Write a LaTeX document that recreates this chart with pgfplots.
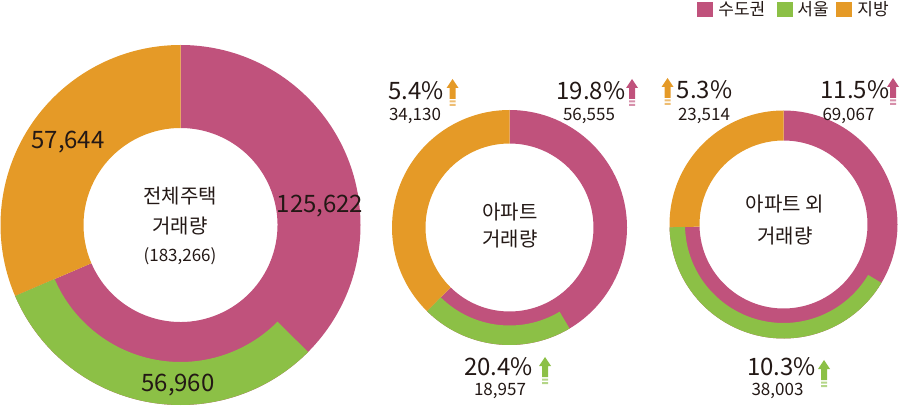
\documentclass[border=0pt]{standalone}
\usepackage{fontspec}
\setmainfont{Noto Sans CJK KR}
\usepackage{pgfplots}
\pgfplotsset{compat=1.18}

\definecolor{capital}{HTML}{C0527C}
\definecolor{seoul}{HTML}{8CC046}
\definecolor{local}{HTML}{E59A27}
\definecolor{ink}{HTML}{231815}

% one annular sector, radii in pixels (1 px = 0.5pt)
\newcommand\sector[7]{% colour, cx, cy, start, end, r inner, r outer
  \edef\temp{\noexpand\fill[#1, shift={(axis cs:#2,#3)}]
    (#4:\fpeval{#7*0.5}pt) arc[start angle=#4, end angle=#5, radius=\fpeval{#7*0.5}pt]
    -- (#5:\fpeval{#6*0.5}pt) arc[start angle=#5, end angle=#4, radius=\fpeval{#6*0.5}pt] -- cycle;}%
  \temp}

% donut: cx, cy (pixel, from top), R out, r in, r seoul band, capital, seoul, local
\newcommand\donut[8]{%
  \edef\aS{\fpeval{90-360*#6/(#6+#8)}}%
  \edef\aG{\fpeval{\aS+360*#7/(#6+#8)}}%
  \edef\cy{\fpeval{418-#2}}%
  \sector{capital}{#1}{\cy}{90}{\aS}{#4}{#3}%
  \sector{local}{#1}{\cy}{\aS}{-270}{#4}{#3}%
  \sector{seoul}{#1}{\cy}{\aG}{\aS}{#5}{#3}}

\newcommand\uparr[3]{% colour, x, top y
  \fill[#1, shift={(axis cs:#2,418-#3)}] (0,0) -- (3pt,-4.5pt) -- (1.5pt,-4.5pt)
    -- (1.5pt,-10pt) -- (-1.5pt,-10pt) -- (-1.5pt,-4.5pt) -- (-3pt,-4.5pt) -- cycle;
  \fill[#1!65, shift={(axis cs:#2,418-#3)}] (-1.5pt,-10.75pt) rectangle (1.5pt,-11.75pt)
    (-1.5pt,-12.5pt) rectangle (1.5pt,-13.5pt);}

\newcommand\bignum[3]{\node[anchor=base, inner sep=0, text=ink, font=\fontsize{12}{14}\selectfont] at (axis cs:#1,418-#2) {#3};}
\newcommand\smallnum[3]{\node[anchor=base, inner sep=0, text=ink, font=\fontsize{8.5}{10}\selectfont] at (axis cs:#1,418-#2) {#3};}
\newcommand\midtext[3]{\node[anchor=center, inner sep=0, text=ink, font=\fontsize{10}{12}\selectfont] at (axis cs:#1,418-#2) {#3};}

\begin{document}
\begin{tikzpicture}
\begin{axis}[x=0.5pt, y=0.5pt, xmin=0, xmax=900, ymin=0, ymax=418,
  hide axis, clip=false]
\coordinate (SW) at (axis cs:0,0);
\coordinate (NE) at (axis cs:900,418);

% 전체주택: 수도권 125,622 / 서울 56,960 / 지방 57,644
\donut{180.5}{225}{180}{97}{137}{125622}{56960}{57644}
% 아파트: 수도권 56,555 / 서울 18,957 / 지방 34,130
\donut{509.5}{227.5}{117.5}{84}{98}{56555}{18957}{34130}
% 아파트 외: 수도권 69,067 / 서울 38,003 / 지방 23,514
\donut{783.5}{224.5}{114}{84}{98.5}{69067}{38003}{23514}

% first donut labels
\bignum{68}{149}{57,644}
\bignum{320}{213}{125,622}
\bignum{178}{392}{56,960}
\midtext{180}{196}{전체주택}
\midtext{180}{226}{거래량}
\node[anchor=center, inner sep=0, text=ink, font=\fontsize{8.5}{10}\selectfont] at (axis cs:180,418-256) {(183,266)};

% second donut labels
\bignum{416}{100}{5.4\%}
\smallnum{415}{121}{34,130}
\bignum{591}{100}{19.8\%}
\smallnum{589}{121}{56,555}
\bignum{498.5}{375}{20.4\%}
\smallnum{500}{395}{18,957}
\midtext{510}{212}{아파트}
\midtext{510}{239}{거래량}
\uparr{local}{452.5}{79}
\uparr{capital}{632}{79}
\uparr{seoul}{545}{357}

% third donut labels
\bignum{704.5}{99}{5.3\%}
\smallnum{704}{121}{23,514}
\bignum{855}{99}{11.5\%}
\smallnum{848.5}{121}{69,067}
\bignum{781.5}{375}{10.3\%}
\smallnum{777.5}{395}{38,003}
\midtext{785}{204}{아파트 외}
\midtext{785}{236}{거래량}
\uparr{local}{667.5}{78}
\uparr{capital}{893}{78}
\uparr{seoul}{824}{360}

% legend
\fill[capital] (axis cs:697,418-2) rectangle (axis cs:713,418-17);
\node[anchor=west, inner sep=0, text=ink, font=\fontsize{8.5}{10}\selectfont] at (axis cs:718,418-9.5) {수도권};
\fill[seoul] (axis cs:777,418-2) rectangle (axis cs:793,418-17);
\node[anchor=west, inner sep=0, text=ink, font=\fontsize{8.5}{10}\selectfont] at (axis cs:797,418-9.5) {서울};
\fill[local] (axis cs:836,418-2) rectangle (axis cs:852,418-17);
\node[anchor=west, inner sep=0, text=ink, font=\fontsize{8.5}{10}\selectfont] at (axis cs:857,418-9.5) {지방};
\end{axis}
\pgfresetboundingbox
\useasboundingbox (SW) rectangle (NE);
\end{tikzpicture}
\end{document}
